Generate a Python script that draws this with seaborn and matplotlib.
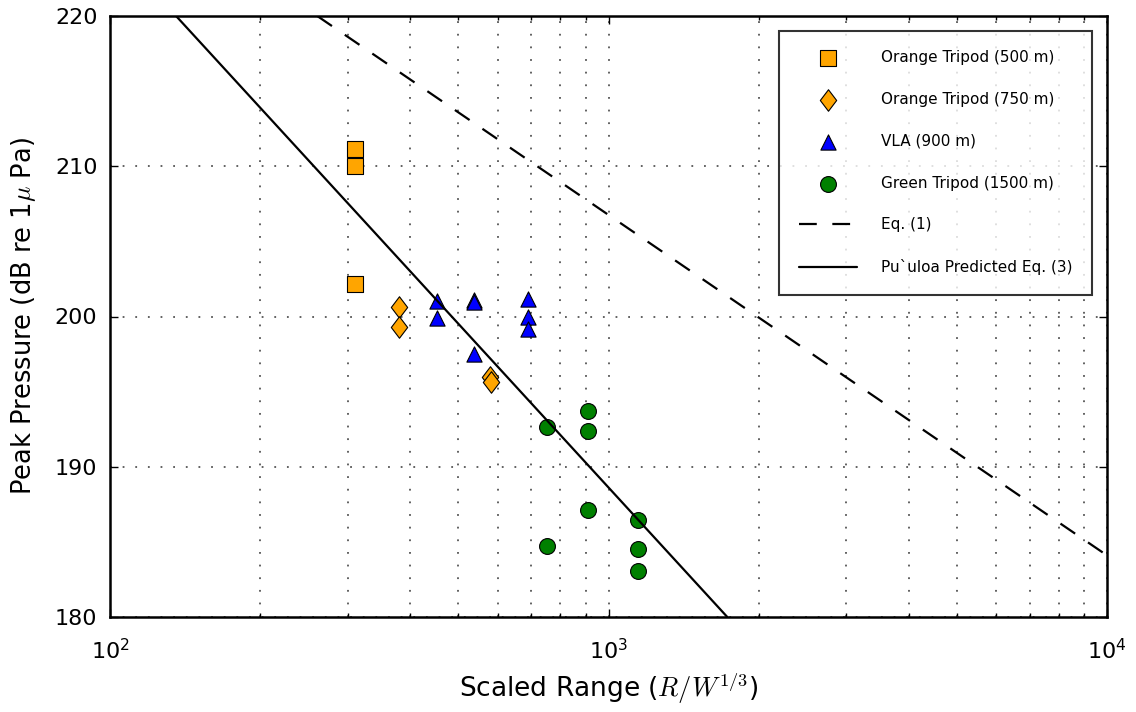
import matplotlib
matplotlib.use("Agg")
import matplotlib.pyplot as plt
from matplotlib.path import Path
import seaborn as sns
import pandas as pd
import numpy as np

# ---- data ----
ot500_x = [310, 310, 310]
ot500_y = [211.15, 210.0, 202.15]

ot750_x = [380, 380, 578, 582]
ot750_y = [200.65, 199.3, 196.0, 195.65]

vla_x = [452, 452, 537, 537, 537, 689, 689, 689]
vla_y = [201.0, 199.9, 201.1, 200.95, 197.5, 201.15, 199.95, 199.15]

green_x = [751, 751, 911, 911, 911, 1148, 1148, 1148]
green_y = [192.65, 184.75, 193.7, 192.35, 187.1, 186.45, 184.55, 183.05]

eq1_x = [260.5, 10000]
eq1_y = [220.0, 184.1]

eq3_x = [135.7, 1731]
eq3_y = [220.0, 180.0]

labels = ["Orange Tripod (500 m)", "Orange Tripod (750 m)", "VLA (900 m)",
          "Green Tripod (1500 m)", "Eq. (1)", "Pu`uloa Predicted Eq. (3)"]

sns.set_style("white")
plt.rcParams['font.family'] = ['DejaVu Sans']
plt.rcParams['mathtext.fontset'] = 'cm'
plt.rcParams['text.color'] = 'black'
plt.rcParams['axes.labelcolor'] = 'black'
plt.rcParams['xtick.color'] = 'black'
plt.rcParams['ytick.color'] = 'black'

fig = plt.figure(figsize=(11.36, 7.12), dpi=100)
ax = fig.add_axes([110/1136, 1-617/712, (1107-110)/1136, (617-16)/712])

diamond = Path([(0, 1), (0.76, 0), (0, -1), (-0.76, 0), (0, 1)],
               [Path.MOVETO, Path.LINETO, Path.LINETO, Path.LINETO, Path.CLOSEPOLY])

series = [
    (ot500_x, ot500_y, 's', 'orange', labels[0], 130),
    (ot750_x, ot750_y, diamond, 'orange', labels[1], 240),
    (vla_x, vla_y, '^', 'blue', labels[2], 120),
    (green_x, green_y, 'o', 'green', labels[3], 130),
]
for xs, ys, m, c, lab, sz in series:
    df = pd.DataFrame({"x": xs, "y": ys})
    sns.scatterplot(data=df, x="x", y="y", marker=m, color=c, s=sz,
                    edgecolor='black', linewidth=0.8, label=lab, ax=ax, zorder=3)

df1 = pd.DataFrame({"x": eq1_x, "y": eq1_y})
sns.lineplot(data=df1, x="x", y="y", color='black', linestyle=(0, (8, 7)),
             linewidth=1.6, label=labels[4], ax=ax, zorder=4)
df3 = pd.DataFrame({"x": eq3_x, "y": eq3_y})
sns.lineplot(data=df3, x="x", y="y", color='black', linestyle='-',
             linewidth=1.6, label=labels[5], ax=ax, zorder=4)

ax.set_xscale('log')
ax.set_xlim(100, 10000)
ax.set_ylim(180, 220)
ax.set_yticks([180, 190, 200, 210, 220])

ax.grid(True, which='major', axis='both', color='#555555', linestyle=(0, (1, 6)), linewidth=1.3)
ax.grid(True, which='minor', axis='x', color='#555555', linestyle=(0, (1, 6)), linewidth=1.3)

for sp in ax.spines.values():
    sp.set_color('black')
    sp.set_linewidth(1.8)

ax.tick_params(which='both', direction='in', top=True, right=True, bottom=True, left=True,
               labelsize=16, colors='black')
ax.tick_params(which='major', length=6, width=1)
ax.tick_params(which='minor', length=3, width=1)
ax.tick_params(axis='x', which='major', pad=15)
ax.tick_params(axis='y', which='major', pad=9)

ax.set_xlabel(r"Scaled Range ($R/W^{1/3}$)", fontsize=19, labelpad=6)
ax.set_ylabel(r"Peak Pressure (dB re 1$\mu$ Pa)", fontsize=18.5, labelpad=12)

handles, labs = ax.get_legend_handles_labels()
leg = ax.legend(handles, labs, loc='upper right', fontsize=11, labelspacing=1.75,
                handlelength=3.8, handletextpad=1.6, borderpad=1.3, borderaxespad=0.95,
                frameon=True, fancybox=False, scatterpoints=1, markerscale=1.0)
leg.get_frame().set_edgecolor('black')
leg.get_frame().set_linewidth(1.5)
for t in leg.get_texts():
    t.set_color('black')

fig.savefig("out.png", dpi=100)
